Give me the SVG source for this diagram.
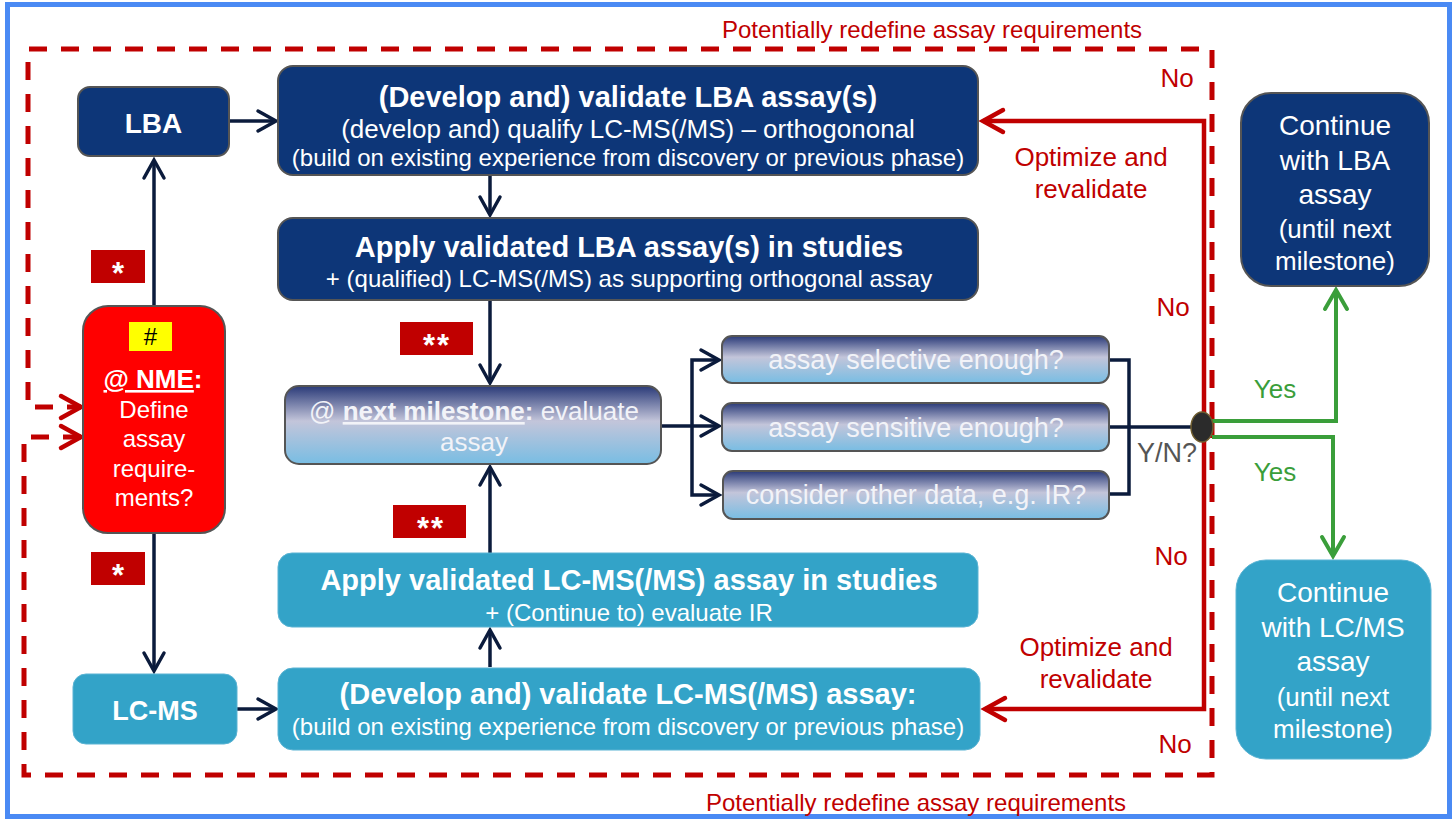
<svg xmlns="http://www.w3.org/2000/svg" width="1453" height="819" viewBox="0 0 1453 819">
<defs>
<linearGradient id="g" x1="0" y1="0" x2="0" y2="1">
<stop offset="0" stop-color="#2a3a78"/>
<stop offset="0.45" stop-color="#c3c5da"/>
<stop offset="1" stop-color="#78bde3"/>
</linearGradient>
<marker id="ad" markerUnits="userSpaceOnUse" markerWidth="26" markerHeight="26" viewBox="-23 -13 26 26" refX="0" refY="0" orient="auto" overflow="visible">
<path d="M-18,-10 L0,0 L-18,10" fill="none" stroke="#0b1b3c" stroke-width="3.5" stroke-linecap="round"/>
</marker>
<marker id="ar" markerUnits="userSpaceOnUse" markerWidth="28" markerHeight="28" viewBox="-24 -14 28 28" refX="0" refY="0" orient="auto" overflow="visible">
<path d="M-20,-11 L0,0 L-20,11" fill="none" stroke="#c00000" stroke-width="4.5" stroke-linecap="round"/>
</marker>
<marker id="ag" markerUnits="userSpaceOnUse" markerWidth="28" markerHeight="28" viewBox="-24 -14 28 28" refX="0" refY="0" orient="auto" overflow="visible">
<path d="M-19,-11 L0,0 L-19,11" fill="none" stroke="#3a9e3a" stroke-width="4" stroke-linecap="round"/>
</marker>
<style>
text{font-family:"Liberation Sans",Arial,sans-serif}
.w{fill:#ffffff}
.lt{fill:#f2f3f8}
.b{font-weight:bold}
.navy{fill:#0d3678;stroke:#555555;stroke-width:2}
.teal{fill:#33a3c8;stroke:#5ab3d3;stroke-width:1}
.grad{fill:url(#g);stroke:#555555;stroke-width:2}
.con{fill:none;stroke:#0b1b3c;stroke-width:3.5}
.red{fill:none;stroke:#c00000;stroke-width:4.5}
.dash{fill:none;stroke:#c00000;stroke-width:5;stroke-dasharray:18 14}
.grn{fill:none;stroke:#3a9e3a;stroke-width:4}
.rt{fill:#c00000}
.gt{fill:#3a9e3a}
.tag{fill:#c00000}
.st{font-size:31px;font-weight:bold;fill:#ffffff;letter-spacing:2px}
</style>
</defs>

<rect x="7.5" y="4.5" width="1442" height="812" fill="#ffffff" stroke="#4a8af4" stroke-width="5"/>

<g id="connectors">
<path class="dash" d="M1212,420 V49 H28 V407 H81" marker-end="url(#ar)"/>
<path class="dash" d="M1212,420 V775 H24 V437 H81" marker-end="url(#ar)"/>
<path class="red" d="M1204,430 V121 H983" marker-end="url(#ar)"/>
<path class="red" d="M1204,430 V709 H985" marker-end="url(#ar)"/>
<path class="grn" d="M1212,421 H1336 V290" marker-end="url(#ag)"/>
<path class="grn" d="M1212,437 H1333 V556" marker-end="url(#ag)"/>
<path class="con" d="M229,121 H276" marker-end="url(#ad)"/>
<path class="con" d="M490,175 V215" marker-end="url(#ad)"/>
<path class="con" d="M490,300 V383" marker-end="url(#ad)"/>
<path class="con" d="M490,553 V467" marker-end="url(#ad)"/>
<path class="con" d="M490,667 V630" marker-end="url(#ad)"/>
<path class="con" d="M154,306 V160" marker-end="url(#ad)"/>
<path class="con" d="M154,533 V671" marker-end="url(#ad)"/>
<path class="con" d="M237,709 H276" marker-end="url(#ad)"/>
<path class="con" d="M661,426 H719" marker-end="url(#ad)"/>
<path class="con" d="M692,426 V360 H719" marker-end="url(#ad)"/>
<path class="con" d="M692,426 V495 H719" marker-end="url(#ad)"/>
<path class="con" d="M1109,360 H1129 V494 H1109"/>
<path class="con" d="M1109,427 H1192"/>
<ellipse cx="1202" cy="427" rx="11" ry="15" fill="#2b2b2b" stroke="#6e5c2e" stroke-width="1.5"/>
<text x="1137" y="462" font-size="27" fill="#555555">Y/N?</text>
<text x="1177" y="87" font-size="26" class="rt" text-anchor="middle">No</text>
<text x="1173" y="316" font-size="26" class="rt" text-anchor="middle">No</text>
<text x="1171" y="565" font-size="26" class="rt" text-anchor="middle">No</text>
<text x="1175" y="753" font-size="26" class="rt" text-anchor="middle">No</text>
<text x="1091" y="166" font-size="26" class="rt" text-anchor="middle">Optimize and</text>
<text x="1091" y="198" font-size="26" class="rt" text-anchor="middle">revalidate</text>
<text x="1096" y="656" font-size="26" class="rt" text-anchor="middle">Optimize and</text>
<text x="1096" y="688" font-size="26" class="rt" text-anchor="middle">revalidate</text>
<text x="1275" y="398" font-size="26" class="gt" text-anchor="middle">Yes</text>
<text x="1275" y="481" font-size="26" class="gt" text-anchor="middle">Yes</text>
<text x="932" y="38" font-size="24" class="rt" text-anchor="middle">Potentially redefine assay requirements</text>
<text x="916" y="811" font-size="24" class="rt" text-anchor="middle">Potentially redefine assay requirements</text>
</g>

<g id="tags">
<rect class="tag" x="91" y="250" width="54" height="33"/>
<text x="119" y="284" class="st" text-anchor="middle">*</text>
<rect class="tag" x="91" y="552" width="54" height="33"/>
<text x="119" y="586" class="st" text-anchor="middle">*</text>
<rect class="tag" x="400" y="322" width="73" height="33"/>
<text x="437" y="356" class="st" text-anchor="middle">**</text>
<rect class="tag" x="393" y="505" width="73" height="33"/>
<text x="431" y="539" class="st" text-anchor="middle">**</text>
</g>

<g id="lba">
<rect class="navy" x="78" y="87" width="151" height="69" rx="12"/>
<text x="153.5" y="133" font-size="28" class="w b" text-anchor="middle">LBA</text>
</g>

<g id="lcms">
<rect class="teal" x="73" y="674" width="164" height="70" rx="13"/>
<text x="155" y="720" font-size="27" class="w b" text-anchor="middle">LC-MS</text>
</g>

<g id="nme">
<rect x="83" y="306" width="142" height="227" rx="25" fill="#ff0000" stroke="#555555" stroke-width="2"/>
<rect x="129" y="322" width="43" height="29" fill="#ffff00"/>
<text x="150.5" y="345" font-size="24" fill="#000000" text-anchor="middle">#</text>
<text x="153" y="388" font-size="26" class="w b" text-anchor="middle"><tspan text-decoration="underline">@ NME</tspan>:</text>
<text x="154" y="418" font-size="24" class="w" text-anchor="middle">Define</text>
<text x="154" y="447" font-size="24" class="w" text-anchor="middle">assay</text>
<text x="154" y="477" font-size="24" class="w" text-anchor="middle">require-</text>
<text x="154" y="506" font-size="24" class="w" text-anchor="middle">ments?</text>
</g>

<g id="validate-lba">
<rect class="navy" x="278" y="66" width="700" height="109" rx="15"/>
<text x="628" y="107" font-size="29" class="w b" text-anchor="middle">(Develop and) validate LBA assay(s)</text>
<text x="628" y="138" font-size="26" class="w" text-anchor="middle">(develop and) qualify LC-MS(/MS) – orthogononal</text>
<text x="628" y="166" font-size="24" class="w" text-anchor="middle">(build on existing experience from discovery or previous phase)</text>
</g>

<g id="apply-lba">
<rect class="navy" x="278" y="218" width="700" height="82" rx="15"/>
<text x="629" y="257" font-size="29" class="w b" text-anchor="middle">Apply validated LBA assay(s) in studies</text>
<text x="629" y="287" font-size="24" class="w" text-anchor="middle">+ (qualified) LC-MS(/MS) as supporting orthogonal assay</text>
</g>

<g id="evaluate">
<rect class="grad" x="285" y="386" width="376" height="78" rx="14"/>
<text x="474" y="420" font-size="26" class="lt" text-anchor="middle">@ <tspan class="b" text-decoration="underline">next milestone</tspan><tspan class="b">:</tspan> evaluate</text>
<text x="474" y="451" font-size="26" class="lt" text-anchor="middle">assay</text>
</g>

<g id="selective">
<rect class="grad" x="722" y="336" width="387" height="47" rx="10"/>
<text x="916" y="369" font-size="27" class="lt" text-anchor="middle">assay selective enough?</text>
</g>
<g id="sensitive">
<rect class="grad" x="722" y="403" width="387" height="48" rx="10"/>
<text x="916" y="437" font-size="27" class="lt" text-anchor="middle">assay sensitive enough?</text>
</g>
<g id="other-data">
<rect class="grad" x="723" y="471" width="386" height="48" rx="10"/>
<text x="916" y="504" font-size="27" class="lt" text-anchor="middle">consider other data, e.g. IR?</text>
</g>

<g id="apply-lcms">
<rect class="teal" x="278" y="553" width="700" height="74" rx="14"/>
<text x="629" y="590" font-size="29" class="w b" text-anchor="middle">Apply validated LC-MS(/MS) assay in studies</text>
<text x="629" y="621" font-size="24" class="w" text-anchor="middle">+ (Continue to) evaluate IR</text>
</g>

<g id="validate-lcms">
<rect class="teal" x="278" y="668" width="702" height="82" rx="15"/>
<text x="628" y="704" font-size="29" class="w b" text-anchor="middle">(Develop and) validate LC-MS(/MS) assay:</text>
<text x="628" y="735" font-size="24" class="w" text-anchor="middle">(build on existing experience from discovery or previous phase)</text>
</g>

<g id="continue-lba">
<rect class="navy" x="1241" y="93" width="188" height="193" rx="30"/>
<text x="1335" y="135" font-size="28" class="w" text-anchor="middle">Continue</text>
<text x="1335" y="170" font-size="28" class="w" text-anchor="middle">with LBA</text>
<text x="1335" y="204" font-size="28" class="w" text-anchor="middle">assay</text>
<text x="1335" y="238" font-size="26" class="w" text-anchor="middle">(until next</text>
<text x="1335" y="270" font-size="26" class="w" text-anchor="middle">milestone)</text>
</g>

<g id="continue-lcms">
<rect class="teal" x="1236" y="560" width="195" height="199" rx="30"/>
<text x="1333" y="602" font-size="28" class="w" text-anchor="middle">Continue</text>
<text x="1333" y="637" font-size="28" class="w" text-anchor="middle">with LC/MS</text>
<text x="1333" y="671" font-size="28" class="w" text-anchor="middle">assay</text>
<text x="1333" y="706" font-size="26" class="w" text-anchor="middle">(until next</text>
<text x="1333" y="738" font-size="26" class="w" text-anchor="middle">milestone)</text>
</g>
</svg>
